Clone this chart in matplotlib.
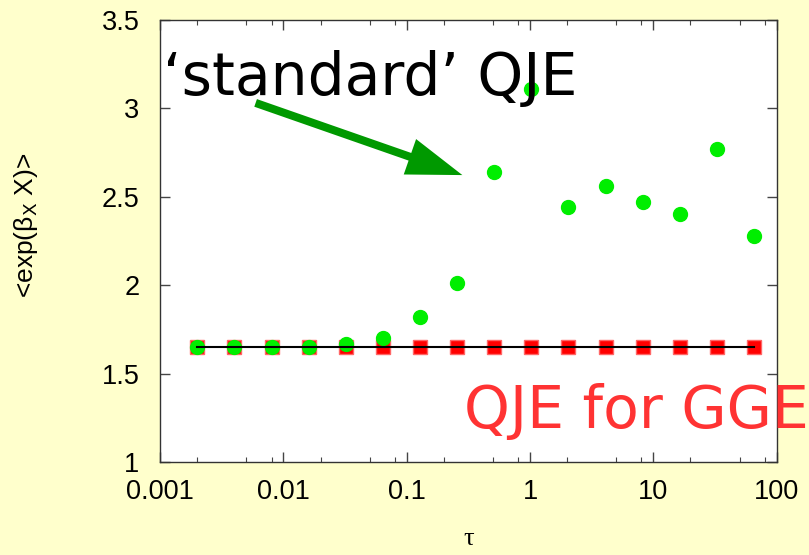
import numpy as np
import matplotlib
matplotlib.use("Agg")
import matplotlib.pyplot as plt
from matplotlib.patches import FancyArrowPatch
from matplotlib.ticker import LogLocator, NullFormatter, FixedLocator

# data
tau = [0.002, 0.004, 0.008, 0.016, 0.032, 0.064, 0.128, 0.256,
       0.512, 1.024, 2.048, 4.096, 8.192, 16.384, 32.768, 65.536]
qje_standard = [1.65, 1.65, 1.65, 1.65, 1.67, 1.70, 1.82, 2.01,
                2.64, 3.11, 2.44, 2.56, 2.47, 2.40, 2.77, 2.28]
qje_gge = [1.65] * len(tau)
gge_exact = 1.653

x_ticks = [0.001, 0.01, 0.1, 1, 10, 100]
x_ticklabels = ["0.001", "0.01", "0.1", "1", "10", "100"]
y_ticks = [1, 1.5, 2, 2.5, 3, 3.5]
y_ticklabels = ["1", "1.5", "2", "2.5", "3", "3.5"]

bg = "#ffffcc"
sans = ["Liberation Sans", "DejaVu Sans"]

fig = plt.figure(figsize=(8.09, 5.55), dpi=100, facecolor=bg)
ax = fig.add_axes([0.198, 0.1676, 0.762, 0.7964])
ax.set_facecolor("white")

ax.plot(tau, qje_gge, "s", color="#ff0000", mec="#ff6666", ms=10, zorder=3)
ax.plot(tau, qje_standard, "o", color="#00ee00", mec="#00ee00", ms=10, zorder=4)
ax.plot([tau[0], tau[-1]], [gge_exact, gge_exact], "-", color="black", lw=1.5, zorder=5)

ax.set_xscale("log")
ax.set_xlim(0.001, 100)
ax.set_ylim(1, 3.5)
ax.set_xticks(x_ticks)
ax.set_xticklabels(x_ticklabels)
ax.xaxis.set_minor_locator(LogLocator(base=10, subs=(2, 5, 8)))
ax.xaxis.set_minor_formatter(NullFormatter())
ax.yaxis.set_major_locator(FixedLocator(y_ticks))
ax.set_yticklabels(y_ticklabels)

for lab in ax.get_xticklabels() + ax.get_yticklabels():
    lab.set_fontfamily(sans)
    lab.set_fontsize(19.5)

ax.tick_params(which="both", direction="in", top=True, right=True, color="#444444")
ax.tick_params(axis="y", which="major", length=7, width=1, pad=15)
ax.tick_params(axis="x", which="major", length=7, width=1, pad=12)
ax.tick_params(which="minor", length=3.5, width=0.8)
for s in ax.spines.values():
    s.set_linewidth(1)
    s.set_color("#333333")

ax.set_ylabel("<exp(β$_{\\rm X}$ X)>", fontsize=19, family=sans)
ax.yaxis.set_label_coords(-0.195, 0.536)
ax.set_xlabel("τ", fontsize=19, family=["Liberation Serif", "DejaVu Serif"], labelpad=17)

fig.text(0.201, 0.8288, "‘standard’ QJE", fontsize=42, color="black",
         family="DejaVu Sans", va="baseline", zorder=20)
fig.text(0.574, 0.2288, "QJE for GGE", fontsize=42, color="#ff3333",
         family="DejaVu Sans", va="baseline", zorder=20)

arrow = FancyArrowPatch(
    (253 / 809, 1 - 102 / 555), (465 / 809, 1 - 176 / 555),
    transform=fig.transFigure,
    arrowstyle="simple,head_length=2.0,head_width=1.35,tail_width=0.29",
    mutation_scale=20, color="#009900", lw=0, zorder=10)
fig.patches.append(arrow)

fig.savefig("out.png", dpi=100, facecolor=bg)
